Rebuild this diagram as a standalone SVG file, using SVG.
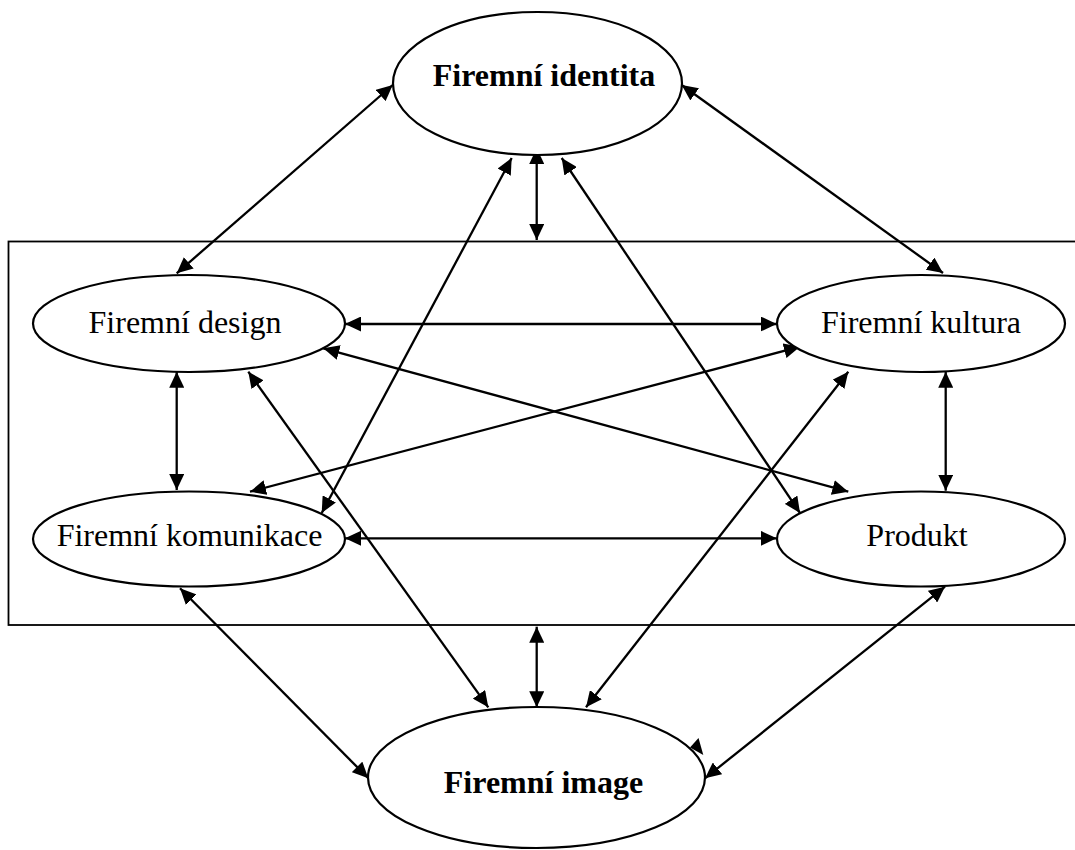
<svg xmlns="http://www.w3.org/2000/svg" width="1075" height="850" viewBox="0 0 1075 850">
  <style>
    .node ellipse { fill: #fff; stroke: #000; stroke-width: 2.2; }
    .lbl { font-family: "Liberation Serif", "Times New Roman", serif; font-size: 32px; fill: #000; text-anchor: middle; }
    .bold { font-weight: bold; }
    .link { stroke: #000; stroke-width: 2.3; fill: none; marker-start: url(#arr); marker-end: url(#arr); }
    .frame { fill: none; stroke: #000; stroke-width: 1.8; }
  </style>
  <defs>
    <marker id="arr" viewBox="0 0 16 15" markerWidth="16" markerHeight="15" refX="16" refY="7.5" orient="auto-start-reverse" markerUnits="userSpaceOnUse">
      <path d="M0,0 L16,7.5 L0,15 z" fill="#000"/>
    </marker>
  </defs>

  <rect width="1075" height="850" fill="#fff"/>

  <!-- frame around the four inner components -->
  <rect class="frame" x="8.5" y="241.5" width="1080" height="383.5"/>

  <g id="connectors">
    <line class="link" x1="392.7" y1="85" x2="176.7" y2="273.3"/>
    <line class="link" x1="681.7" y1="85" x2="943" y2="273"/>
    <line class="link" x1="536.7" y1="148" x2="536.7" y2="240"/>
    <line class="link" x1="511.7" y1="158" x2="321.7" y2="513"/>
    <line class="link" x1="561.7" y1="158" x2="800" y2="513"/>
    <line class="link" x1="345" y1="324" x2="776.7" y2="324"/>
    <line class="link" x1="323.3" y1="348.3" x2="848.3" y2="491.7"/>
    <line class="link" x1="248.3" y1="371.7" x2="488.3" y2="707.3"/>
    <line class="link" x1="176.7" y1="371.7" x2="176.7" y2="490"/>
    <line class="link" x1="800" y1="346.7" x2="250" y2="491.7"/>
    <line class="link" x1="848.3" y1="371.7" x2="586" y2="707.3"/>
    <line class="link" x1="945.7" y1="371.7" x2="945.7" y2="490.7"/>
    <line class="link" x1="345" y1="538.3" x2="776.7" y2="538.3"/>
    <line class="link" x1="180" y1="588.3" x2="368.3" y2="778.3"/>
    <line class="link" x1="945" y1="586.7" x2="705" y2="778.3"/>
    <line class="link" x1="536.7" y1="626.7" x2="536.7" y2="707.3"/>
    <!-- lone arrowhead on the image ellipse -->
    <path d="M703.3,755 L690,747.5 L698.5,738 z" fill="#000"/>
  </g>

  <g id="n-identita" class="node">
    <ellipse cx="537.5" cy="83.5" rx="144.5" ry="71.5"/>
    <text class="lbl bold" x="544" y="86">Firemní identita</text>
  </g>
  <g id="n-design" class="node">
    <ellipse cx="189" cy="323.5" rx="156" ry="48.5"/>
    <text class="lbl" x="185" y="333">Firemní design</text>
  </g>
  <g id="n-kultura" class="node">
    <ellipse cx="921" cy="323.5" rx="144" ry="48.5"/>
    <text class="lbl" x="921" y="333">Firemní kultura</text>
  </g>
  <g id="n-komunikace" class="node">
    <ellipse cx="189" cy="539" rx="156" ry="47.5"/>
    <text class="lbl" x="189.5" y="546">Firemní komunikace</text>
  </g>
  <g id="n-produkt" class="node">
    <ellipse cx="921" cy="539" rx="144" ry="47.5"/>
    <text class="lbl" x="917" y="546">Produkt</text>
  </g>
  <g id="n-image" class="node">
    <ellipse cx="536.5" cy="777.5" rx="168.5" ry="70.5"/>
    <text class="lbl bold" x="543.5" y="793">Firemní image</text>
  </g>
</svg>
